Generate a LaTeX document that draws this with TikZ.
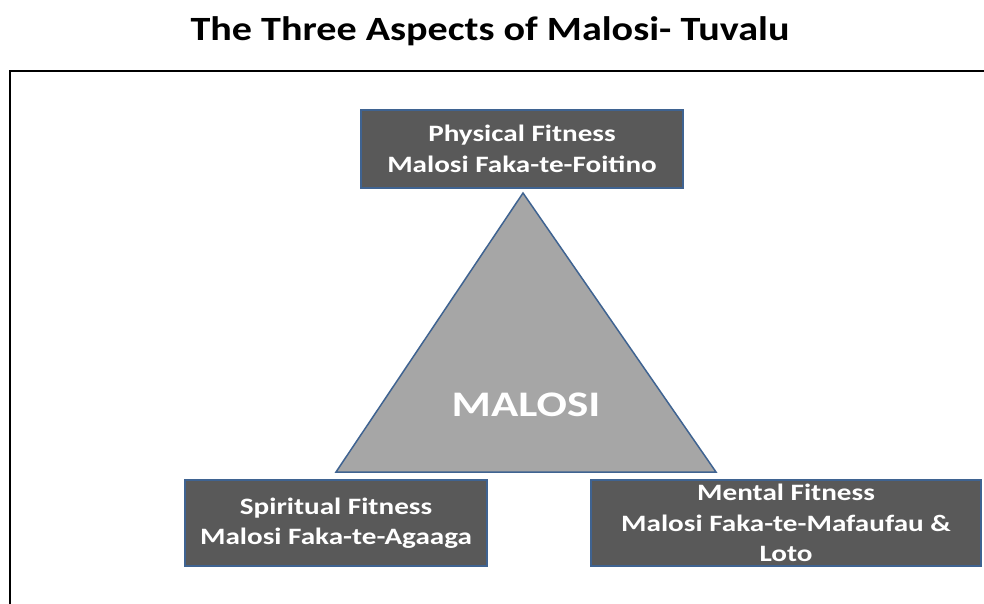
\documentclass[tikz,border=0pt]{standalone}
\usepackage{fontspec}
\usepackage{graphicx}
\setmainfont{Carlito}
\definecolor{boxfill}{HTML}{595959}
\definecolor{boxline}{HTML}{3F6391}
\definecolor{trifill}{HTML}{A6A6A6}
\newcommand{\widetxt}[1]{\scalebox{1.24}[1]{#1}}
\begin{document}
\begin{tikzpicture}[x=1pt,y=-1pt,
  fitbox/.style={draw=boxline,line width=1.5pt,fill=boxfill,text=white,
    font=\fontsize{23.5}{30.5}\selectfont\bfseries,align=center,inner sep=0pt},
  frameline/.style={draw=black,line width=2.4pt},
  triline/.style={draw=boxline,line width=1.5pt,fill=trifill,line join=miter}]
\useasboundingbox (0,0) rectangle (984,603);
% title
\node[font=\fontsize{34}{40}\selectfont\bfseries,anchor=base,inner sep=0pt] (title) at (490,40) {\scalebox{1.18}[1]{The Three Aspects of Malosi- Tuvalu}};
% frame
\coordinate (fbl) at (10,604);
\coordinate (ftl) at (10,71);
\coordinate (ftr) at (985,71);
\draw[frameline] (fbl) -- (ftl) -- (ftr);
% triangle
\coordinate (apex) at (523,193);
\coordinate (bl) at (336,472);
\coordinate (br) at (716,472);
\draw[triline] (apex) -- (bl) -- (br) -- cycle;
\node[text=white,font=\fontsize{36}{40}\selectfont\bfseries,anchor=base,inner sep=0pt] (malosi) at (526,416) {\scalebox{1.25}[1]{MALOSI}};
% boxes
\node[fitbox,minimum width=322pt,minimum height=78pt] (phys) at (522,149) {\widetxt{Physical Fitness}\\\widetxt{Malosi Faka-te-Foitino}};
\node[fitbox,minimum width=302pt,minimum height=86pt] (spir) at (336,523) {\widetxt{Spiritual Fitness}\\\widetxt{Malosi Faka-te-Agaaga}};
\node[fitbox,minimum width=390pt,minimum height=86pt] (ment) at (786,523) {\widetxt{Mental Fitness}\\\widetxt{Malosi Faka-te-Mafaufau \&}\\\widetxt{Loto}};
\end{tikzpicture}
\end{document}
